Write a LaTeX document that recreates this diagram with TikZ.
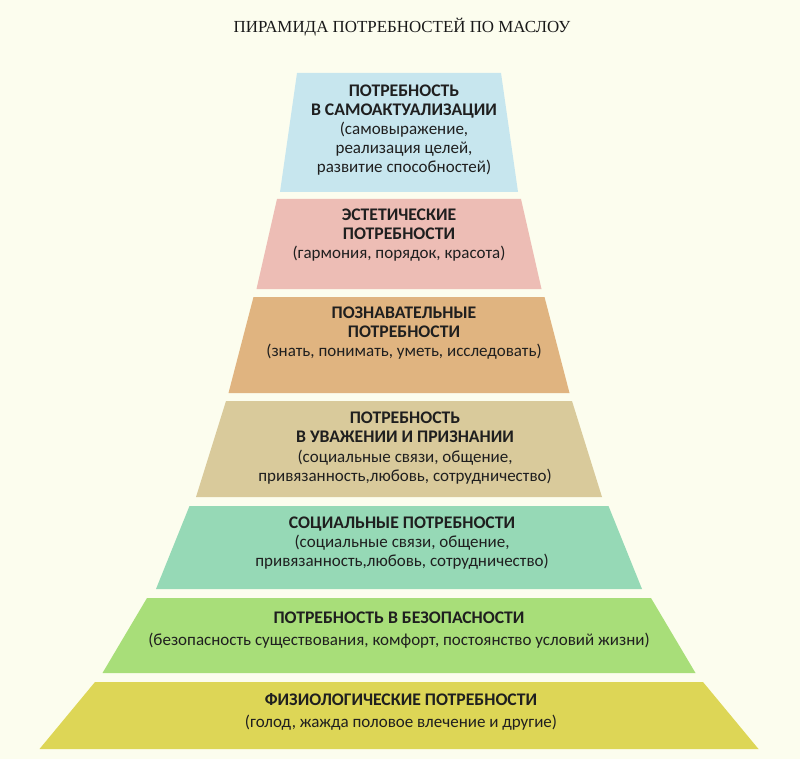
\documentclass[tikz,border=0pt]{standalone}
\usepackage{fontspec}
\setmainfont{Carlito}
\newfontfamily\titlefont{Liberation Serif}
\usetikzlibrary{positioning}

\definecolor{bgcream}{RGB}{252,253,238}
\definecolor{lvlblue}{RGB}{199,230,238}
\definecolor{lvlpink}{RGB}{237,189,181}
\definecolor{lvltan}{RGB}{224,180,128}
\definecolor{lvlkhaki}{RGB}{217,202,155}
\definecolor{lvlteal}{RGB}{150,217,182}
\definecolor{lvlgreen}{RGB}{168,222,121}
\definecolor{lvlyellow}{RGB}{221,214,86}

% bold heading of a level
\newcommand{\hd}[1]{{\fontsize{17.7}{19.5}\selectfont\bfseries #1}}

\begin{document}
\begin{tikzpicture}[x=1pt, y=-1pt,
    lvltext/.style={align=center, inner sep=0pt, text=black!88,
        font=\fontsize{17}{19.2}\selectfont}]
    % Background
    \useasboundingbox (0,0) rectangle (800,759);
    \fill[bgcream] (0,0) rectangle (800,759);

    % Title
    \node[font=\titlefont\fontsize{16.9}{19}\selectfont, text=black!90] (title) at (402,27) {ПИРАМИДА ПОТРЕБНОСТЕЙ ПО МАСЛОУ};

    % Levels, top to bottom: colour / top y / bottom y / top half width / bottom half width
    \foreach \col/\yt/\yb/\wt/\wb in {lvlblue/73/192/102/119, lvlpink/199/289/122/142.5,
        lvltan/297/393/145.5/170.5, lvlkhaki/401/497/173/203, lvlteal/506/589/209.5/243,
        lvlgreen/598/673/252/296.5, lvlyellow/682/749/304/359.5} {
        \fill[\col] (399-\wt,\yt) -- (399+\wt,\yt) -- (399+\wb,\yb) -- (399-\wb,\yb) -- cycle;
    }

    % Labels
    \node[lvltext] (selfact) at (404,130) {\hd{ПОТРЕБНОСТЬ}\\\hd{В САМОАКТУАЛИЗАЦИИ}\\(самовыражение,\\реализация целей,\\развитие способностей)};
    \node[lvltext] (aesth) at (399,235) {\hd{ЭСТЕТИЧЕСКИЕ}\\\hd{ПОТРЕБНОСТИ}\\(гармония, порядок, красота)};
    \node[lvltext] (cogn) at (404,333) {\hd{ПОЗНАВАТЕЛЬНЫЕ}\\\hd{ПОТРЕБНОСТИ}\\(знать, понимать, уметь, исследовать)};
    \node[lvltext] (esteem) at (405,448) {\hd{ПОТРЕБНОСТЬ}\\\hd{В УВАЖЕНИИ И ПРИЗНАНИИ}\\(социальные связи, общение,\\привязанность,любовь, сотрудничество)};
    \node[lvltext] (social) at (402,543) {\hd{СОЦИАЛЬНЫЕ ПОТРЕБНОСТИ}\\(социальные связи, общение,\\привязанность,любовь, сотрудничество)};
    \node[lvltext] (safety) at (399,630) {\hd{ПОТРЕБНОСТЬ В БЕЗОПАСНОСТИ}\\[2pt](безопасность существования, комфорт, постоянство условий жизни)};
    \node[lvltext] (physio) at (401,712) {\hd{ФИЗИОЛОГИЧЕСКИЕ ПОТРЕБНОСТИ}\\[2pt](голод, жажда половое влечение и другие)};
\end{tikzpicture}
\end{document}
